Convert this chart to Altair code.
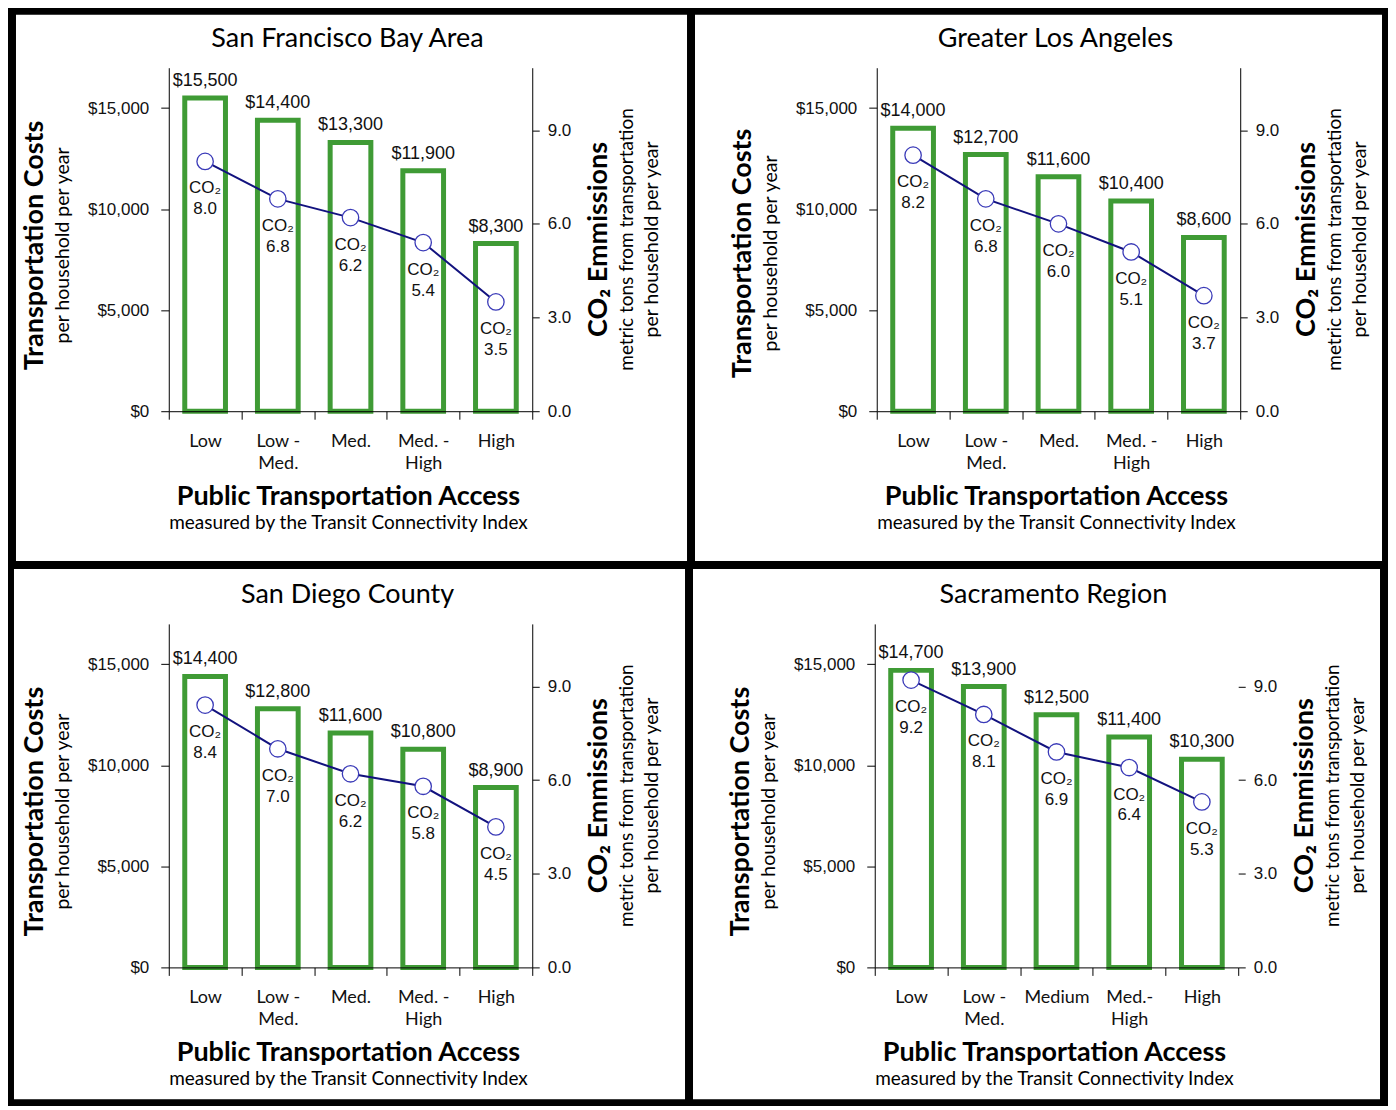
import altair as alt
import pandas as pd

# ---------------- data ----------------
cats_std = ["Low", "Low -\nMed.", "Med.", "Med. -\nHigh", "High"]
cats_sac = ["Low", "Low -\nMed.", "Medium", "Med.-\nHigh", "High"]

sf_costs = [15500, 14400, 13300, 11900, 8300]
sf_co2 = [8.0, 6.8, 6.2, 5.4, 3.5]
la_costs = [14000, 12700, 11600, 10400, 8600]
la_co2 = [8.2, 6.8, 6.0, 5.1, 3.7]
sd_costs = [14400, 12800, 11600, 10800, 8900]
sd_co2 = [8.4, 7.0, 6.2, 5.8, 4.5]
sac_costs = [14700, 13900, 12500, 11400, 10300]
sac_co2 = [9.2, 8.1, 6.9, 6.4, 5.3]

panel_titles = ["San Francisco Bay Area", "Greater Los Angeles", "San Diego County", "Sacramento Region"]
cost_ticks = [0, 5000, 10000, 15000]
co2_ticks = [0, 3, 6, 9]

# ---------------- style ----------------
GREEN = "#3f9b35"
NAVY = "#12127e"
CIRCLE = "#3a3ab8"
TFONT = "Lato"
NFONT = "Liberation Sans"
W, H = 364, 344


def panel(title, cats, costs, co2, ox, oy, pw, ph, ty_left, right_domain=True):
    df = pd.DataFrame({"cat": cats, "cost": costs, "co2": co2})
    df["co2_label"] = ["CO\u2082\n" + f"{v:.1f}" for v in co2]
    base = alt.Chart(df)
    one = alt.Data(values=[{"k": 0}])

    x = alt.X(
        "cat:N", sort=cats,
        scale=alt.Scale(paddingInner=0, paddingOuter=0),
        axis=alt.Axis(title=None, labelAngle=0, labelExpr="split(datum.label, '\\n')",
                      tickBand="extent", tickSize=8, labelPadding=13, zindex=2,
                      labelFont=TFONT, labelFontSize=18, labelLineHeight=22,
                      labelColor="#111", domainColor="black", tickColor="black"),
    )
    ycost = alt.Y(
        "cost:Q", scale=alt.Scale(domain=[0, 17000], nice=False),
        axis=alt.Axis(title=None, values=cost_ticks, format="$,.0f", grid=False,
                      tickSize=8, labelPadding=12, labelFont=NFONT, labelFontSize=17,
                      labelColor="#111", domainColor="black", tickColor="black", zindex=2),
    )
    yco2 = alt.Y(
        "co2:Q", scale=alt.Scale(domain=[0, 11], nice=False),
        axis=alt.Axis(title=None, orient="right", values=co2_ticks, format=".1f", grid=False,
                      tickSize=7, labelPadding=8, labelFont=NFONT, labelFontSize=17,
                      labelColor="#111", domain=right_domain, zindex=2,
                      domainColor="black", tickColor="black"),
    )

    bars = base.mark_bar(fill="white", stroke=GREEN, strokeWidth=5,
                         width=alt.RelativeBandSize(0.56)).encode(x=x, y=ycost)
    bar_text = base.mark_text(baseline="alphabetic", dy=-12, font=NFONT, fontSize=18,
                              color="#111").encode(
        x=x, y=ycost, text=alt.Text("cost:Q", format="$,.0f"))
    line = base.mark_line(color=NAVY, strokeWidth=2).encode(x=x, y=yco2)
    pts = base.mark_point(filled=True, fill="white", stroke=CIRCLE, strokeWidth=1.3,
                          size=270, opacity=1, shape="circle").encode(x=x, y=yco2)
    co2_text = base.mark_text(baseline="top", dy=19, lineBreak="\n", lineHeight=21,
                              font=NFONT, fontSize=17, color="#111").encode(
        x=x, y=yco2, text="co2_label:N")

    bg = alt.Chart(one).mark_rect(fill="white").encode(
        x=alt.value(-ox), x2=alt.value(pw - ox), y=alt.value(-oy), y2=alt.value(ph - oy))

    def label(text, lx, ly, size, weight="normal", angle=0):
        return alt.Chart(one).mark_text(
            text=text, font=TFONT, fontSize=size, fontWeight=weight, angle=angle,
            align="center", baseline="middle", color="black",
        ).encode(x=alt.value(lx), y=alt.value(ly))

    texts = alt.layer(
        label(title, 179, -29, 27),
        label("Transportation Costs", -134, ty_left, 27, "bold", 270),
        label("per household per year", -106, ty_left, 19.5, "normal", 270),
        label("CO\u2082 Emmissions", W + 67, 172, 27, "bold", 270),
        label("metric tons from transportation", W + 95, 172, 19, "normal", 270),
        label("per household per year", W + 120, 172, 19.5, "normal", 270),
        label("Public Transportation Access", 180, H + 86, 27, "bold"),
        label("measured by the Transit Connectivity Index", 180, H + 112, 19),
    )

    cost_layer = alt.layer(bars, bar_text)
    co2_layer = alt.layer(line, pts, co2_text)
    return alt.layer(bg, cost_layer, co2_layer, texts).resolve_scale(
        y="independent").properties(width=W, height=H)


p1 = panel(panel_titles[0], cats_std, sf_costs, sf_co2, 153, 53, 672, 547, 178)
p2 = panel(panel_titles[1], cats_std, la_costs, la_co2, 182, 53, 688, 547, 186)
p3 = panel(panel_titles[2], cats_std, sd_costs, sd_co2, 155, 55, 672, 531, 188)
p4 = panel(panel_titles[3], cats_sac, sac_costs, sac_co2, 182, 55, 688, 531, 188,
           right_domain=False)

row1 = alt.hconcat(p1, p2, spacing=8)
row2 = alt.hconcat(p3, p4, spacing=8)
chart = alt.vconcat(row1, row2, spacing=8).properties(
    background="black", padding=6
).configure_view(strokeWidth=0)

chart.save("out.html", embed_options={"renderer": "svg", "actions": False})
